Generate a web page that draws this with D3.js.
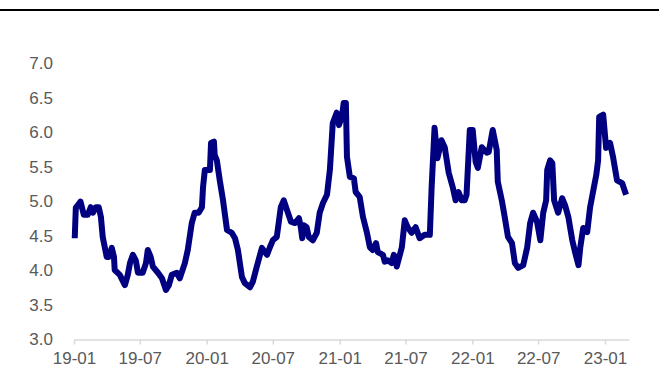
<!DOCTYPE html>
<html>
<head>
<meta charset="utf-8">
<script src="https://cdn.jsdelivr.net/npm/d3@7/dist/d3.min.js"></script>
<style>
  html, body { margin: 0; padding: 0; background: #ffffff; }
  svg { display: block; }
  text { font-family: "Liberation Sans", Arial, sans-serif; }
</style>
</head>
<body>
<svg id="chart" width="659" height="369"></svg>
<script>
// Observation dates and series values
const dates = [
  "2019-01-03","2019-01-06","2019-01-19","2019-01-28","2019-02-08","2019-02-16","2019-02-22","2019-03-02",
  "2019-03-10","2019-03-16","2019-03-21","2019-04-01","2019-04-07","2019-04-15","2019-04-21","2019-04-23",
  "2019-05-07","2019-05-21","2019-05-29","2019-06-04","2019-06-12","2019-06-20","2019-06-26","2019-07-09",
  "2019-07-18","2019-07-23","2019-07-31","2019-08-06","2019-08-20","2019-08-31","2019-09-11","2019-09-19",
  "2019-09-27","2019-10-11","2019-10-19","2019-11-02","2019-11-10","2019-11-21","2019-11-29","2019-12-10",
  "2019-12-19","2019-12-22","2019-12-27","2020-01-10","2020-01-13","2020-01-21","2020-01-23","2020-01-29",
  "2020-02-06","2020-02-15","2020-02-26","2020-03-10","2020-03-19","2020-03-27","2020-04-07","2020-04-15",
  "2020-04-29","2020-05-07","2020-05-18","2020-06-01","2020-06-15","2020-06-23","2020-07-01","2020-07-12",
  "2020-07-23","2020-07-31","2020-08-09","2020-08-20","2020-08-31","2020-09-11","2020-09-16","2020-09-20",
  "2020-09-24","2020-10-02","2020-10-08","2020-10-19","2020-10-30","2020-11-07","2020-11-16","2020-11-27",
  "2020-12-05","2020-12-13","2020-12-24","2020-12-30","2021-01-07","2021-01-12","2021-01-18","2021-01-21",
  "2021-01-29","2021-02-09","2021-02-14","2021-02-25","2021-03-06","2021-03-17","2021-03-25","2021-04-02",
  "2021-04-11","2021-04-16","2021-04-30","2021-05-05","2021-05-13","2021-05-24","2021-05-30","2021-06-07",
  "2021-06-21","2021-06-29","2021-07-07","2021-07-18","2021-07-29","2021-08-09","2021-08-23","2021-09-06",
  "2021-09-11","2021-09-19","2021-09-27","2021-10-08","2021-10-17","2021-10-28","2021-11-08","2021-11-16",
  "2021-11-24","2021-12-03","2021-12-11","2021-12-16","2021-12-25","2022-01-02","2022-01-10","2022-01-16",
  "2022-01-27","2022-02-10","2022-02-15","2022-02-26","2022-03-09","2022-03-12","2022-03-23","2022-03-31",
  "2022-04-09","2022-04-20","2022-04-28","2022-05-07","2022-05-21","2022-06-01","2022-06-09","2022-06-17",
  "2022-06-28","2022-07-07","2022-07-15","2022-07-23","2022-07-26","2022-08-03","2022-08-09","2022-08-14",
  "2022-08-25","2022-09-05","2022-09-13","2022-09-22","2022-10-03","2022-10-11","2022-10-20","2022-10-25",
  "2022-11-02","2022-11-13","2022-11-21","2022-11-30","2022-12-08","2022-12-13","2022-12-16","2022-12-27",
  "2023-01-04","2023-01-15","2023-01-23","2023-02-03","2023-02-17","2023-02-28"
];
const values = [
  4.46,4.90,4.99,4.80,4.80,4.91,4.83,4.91,
  4.91,4.77,4.48,4.19,4.19,4.32,4.19,4.00,
  3.93,3.78,3.93,4.10,4.22,4.14,3.96,3.96,
  4.10,4.29,4.19,4.05,3.96,3.88,3.71,3.78,
  3.93,3.96,3.88,4.10,4.29,4.68,4.83,4.83,
  4.91,5.20,5.45,5.45,5.84,5.86,5.67,5.59,
  5.30,5.01,4.58,4.54,4.46,4.29,3.90,3.81,
  3.75,3.83,4.05,4.32,4.22,4.33,4.43,4.48,
  4.91,5.01,4.87,4.70,4.68,4.75,4.62,4.46,
  4.65,4.62,4.48,4.43,4.54,4.83,4.97,5.09,
  5.45,6.13,6.28,6.10,6.22,6.42,6.42,5.64,
  5.35,5.33,5.13,5.06,4.77,4.54,4.33,4.29,
  4.39,4.26,4.22,4.12,4.14,4.10,4.22,4.05,
  4.33,4.72,4.62,4.54,4.62,4.46,4.51,4.51,
  5.20,6.06,5.62,5.88,5.78,5.41,5.20,5.01,
  5.13,5.01,5.01,5.09,6.03,6.03,5.57,5.48,
  5.78,5.70,5.71,6.03,5.74,5.28,5.01,4.77,
  4.48,4.39,4.10,4.03,4.07,4.33,4.68,4.83,
  4.70,4.43,4.83,5.01,5.45,5.59,5.55,5.01,
  4.83,5.04,4.94,4.77,4.43,4.25,4.07,4.33,
  4.61,4.55,4.91,5.16,5.38,5.59,6.22,6.25,
  5.77,5.84,5.64,5.30,5.26,5.09
];
// Axis ticks
const yTicks = [3.0, 3.5, 4.0, 4.5, 5.0, 5.5, 6.0, 6.5, 7.0];
const xTickLabels = ["19-01","19-07","20-01","20-07","21-01","21-07","22-01","22-07","23-01"];

const parse = d3.timeParse("%Y-%m-%d");
const parseTick = d3.timeParse("%y-%m");
const series = dates.map((d, i) => ({ date: parse(d), value: values[i] }));
const xTickDates = xTickLabels.map(parseTick);

const svg = d3.select("#chart");

// Rule across the top of the frame
svg.append("line")
  .attr("x1", 0).attr("x2", 659)
  .attr("y1", 10).attr("y2", 10)
  .attr("stroke", "#000").attr("stroke-width", 2);

const x = d3.scaleTime()
  .domain([parse("2019-01-01"), parse("2023-03-08")])
  .range([74, 629]);

const y = d3.scaleLinear()
  .domain([3, 7])
  .range([339, 63]);

// Y axis: labels only
const yAxis = d3.axisLeft(y)
  .tickValues(yTicks)
  .tickFormat(d3.format(".1f"))
  .tickSize(0)
  .tickPadding(0);
const gy = svg.append("g")
  .attr("transform", "translate(53,0)")
  .call(yAxis);
gy.select(".domain").remove();
gy.selectAll("text")
  .attr("fill", "#595959")
  .style("font-size", "17px")
  .attr("dy", "0.35em");

// X axis
const xAxis = d3.axisBottom(x)
  .tickValues(xTickDates)
  .tickFormat(d3.timeFormat("%y-%m"))
  .tickSizeInner(5)
  .tickSizeOuter(0)
  .tickPadding(7);
const gx = svg.append("g")
  .attr("transform", "translate(0,339.5)")
  .call(xAxis);
gx.select(".domain").attr("stroke", "#d9d9d9").attr("stroke-width", 1.5);
gx.selectAll(".tick line").attr("stroke", "#d9d9d9").attr("stroke-width", 1.5);
gx.selectAll("text")
  .attr("fill", "#595959")
  .style("font-size", "17px");

// Series line
const line = d3.line()
  .x(d => x(d.date))
  .y(d => y(d.value));

svg.append("path")
  .datum(series)
  .attr("d", line)
  .attr("fill", "none")
  .attr("stroke", "#000080")
  .attr("stroke-width", 6)
  .attr("stroke-linejoin", "round")
  .attr("stroke-linecap", "butt");
</script>
</body>
</html>
